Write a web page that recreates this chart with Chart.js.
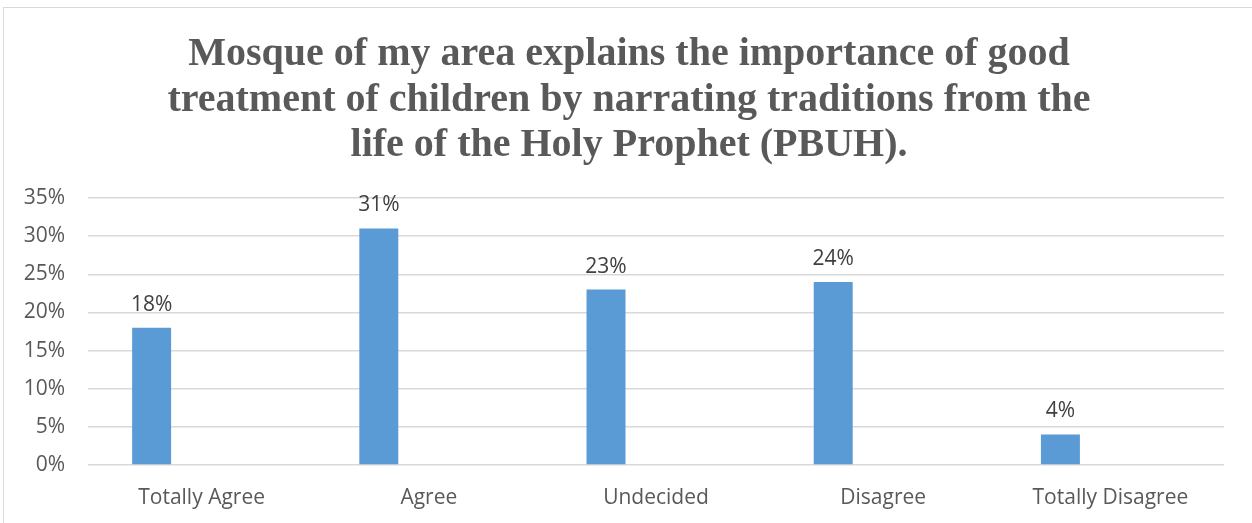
<!DOCTYPE html>
<html>
<head>
<meta charset="utf-8">
<script src="https://cdn.jsdelivr.net/npm/chart.js@4.4.0/dist/chart.umd.min.js"></script>
<style>
  body { margin: 0; background: #fff; overflow: hidden; }
  #frame { position: absolute; left: 3px; top: 7px; width: 1300px; height: 600px;
           border-top: 1px solid #d9d9d9; border-left: 1px solid #d9d9d9; }
  #wrap { position: absolute; left: 0; top: 0; width: 1252px; height: 523px; }
</style>
</head>
<body>
<div id="frame"></div>
<div id="wrap"><canvas id="myChart"></canvas></div>
<script>
'use strict';

let categories = ['Totally Agree', 'Agree', 'Undecided', 'Disagree', 'Totally Disagree'];
let responses = [18, 31, 23, 24, 4];
// excel chart had a second, empty series which pushes the bars left
let emptySeries = [null, null, null, null, null];
let titleLines = [
  'Mosque of my area explains the importance of good',
  'treatment of children by narrating traditions from the',
  'life of the Holy Prophet (PBUH).'
];
let yMax = 35;
let yStep = 5;

// title is drawn by hand so it can sit a bit off the plot centre like excel does
let bigTitle = {
  id: 'bigTitle',
  afterDraw(chart) {
    let ctx = chart.ctx;
    ctx.save();
    ctx.font = 'bold 40px "Liberation Serif", "Times New Roman", serif';
    ctx.fillStyle = '#595959';
    ctx.textAlign = 'center';
    ctx.textBaseline = 'alphabetic';
    for (let i = 0; i < titleLines.length; i++) {
      ctx.fillText(titleLines[i], 629, 65 + i * 45.5);
    }
    ctx.restore();
  }
};

// draws the % value above each bar
let valueLabels = {
  id: 'valueLabels',
  afterDatasetsDraw(chart) {
    let ctx = chart.ctx;
    let meta = chart.getDatasetMeta(0);
    ctx.save();
    ctx.font = '21px "Open Sans"';
    ctx.fillStyle = '#404040';
    ctx.textAlign = 'center';
    ctx.textBaseline = 'middle';
    for (let i = 0; i < meta.data.length; i++) {
      let bar = meta.data[i];
      ctx.fillText(responses[i] + '%', bar.x, bar.y - 23);
    }
    ctx.restore();
  }
};

function chartRender() {
  let ctx = document.getElementById('myChart').getContext('2d');
  new Chart(ctx, {
    type: 'bar',
    data: {
      labels: categories,
      datasets: [{
        label: 'Responses',
        data: responses,
        backgroundColor: '#5b9bd5',
        borderWidth: 0,
        categoryPercentage: 0.88,
        barPercentage: 0.39
      }, {
        label: '',
        data: emptySeries,
        backgroundColor: '#ed7d31',
        categoryPercentage: 0.88,
        barPercentage: 0.39
      }]
    },
    plugins: [valueLabels, bigTitle],
    options: {
      responsive: false,
      animation: false,
      layout: { padding: { top: 198, right: 28, bottom: 0, left: 0 } },
      plugins: {
        legend: { display: false },
        tooltip: { enabled: false },
        title: { display: false }
      },
      scales: {
        x: {
          grid: { display: false, drawTicks: false },
          border: { display: false },
          ticks: { color: '#595959', font: { family: '"Open Sans"', size: 21 }, padding: 20, maxRotation: 0 },
          afterFit(scale) { scale.height = 58; }
        },
        y: {
          min: 0,
          max: yMax,
          grid: { color: '#d9d9d9', lineWidth: 1.5, drawTicks: false },
          border: { display: false },
          ticks: {
            stepSize: yStep,
            color: '#595959',
            font: { family: '"Open Sans"', size: 21 },
            padding: 23,
            callback: function (v) { return v + '%'; }
          },
          afterFit(scale) { scale.width = 88; }
        }
      }
    }
  });
}

let canvas = document.getElementById('myChart');
canvas.width = 1252;
canvas.height = 523;
chartRender();
</script>
</body>
</html>
